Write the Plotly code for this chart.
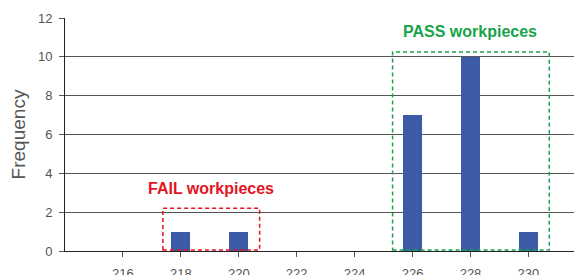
import plotly.graph_objects as go

bins = [216, 218, 220, 222, 224, 226, 228, 230]
frequency = [0, 1, 1, 0, 0, 7, 10, 1]
x_ticks = [216, 218, 220, 222, 224, 226, 228, 230]
y_ticks = [0, 2, 4, 6, 8, 10, 12]

fail_box = dict(x0=217.38, x1=220.72, y0=0.05, y1=2.2)
pass_box = dict(x0=225.31, x1=230.72, y0=0.05, y1=10.25)

fig = go.Figure()
fig.add_trace(go.Bar(x=bins, y=frequency, width=0.65,
                     marker=dict(color="#3c5ba6", line=dict(width=0))))

fig.add_shape(type="rect", xref="x", yref="y", **fail_box,
              line=dict(color="#e5131f", width=1.5, dash="4px,3px"))
fig.add_shape(type="rect", xref="x", yref="y", **pass_box,
              line=dict(color="#17a44a", width=1.5, dash="4px,3px"))

fig.add_annotation(x=219.05, y=3.2, xref="x", yref="y", text="<b>FAIL workpieces</b>",
                   showarrow=False, font=dict(color="#e5131f", size=16,
                                              family="Liberation Sans, Arial"))
fig.add_annotation(x=228.0, y=11.3, xref="x", yref="y", text="<b>PASS workpieces</b>",
                   showarrow=False, font=dict(color="#17a44a", size=16,
                                              family="Liberation Sans, Arial"))

fig.update_layout(
    width=574, height=267,
    margin=dict(l=57, r=0, t=10, b=24, autoexpand=False),
    plot_bgcolor="white", paper_bgcolor="white",
    showlegend=False,
    font=dict(family="Liberation Sans, Arial", color="#555555", size=13),
    bargap=0,
)
fig.update_xaxes(range=[214, 231.85], tickvals=x_ticks, ticktext=[str(t) for t in x_ticks],
                 showgrid=False, zeroline=False, showline=True, linecolor="#222222",
                 linewidth=1, ticks="outside", ticklen=5, tickcolor="#555555",
                 ticklabelstandoff=5, automargin=False)
fig.update_yaxes(range=[0, 12], tickvals=y_ticks, showgrid=True, gridcolor="#555555",
                 gridwidth=1, zeroline=False, showline=True, linecolor="#222222",
                 linewidth=1, ticks="outside", ticklen=5, tickcolor="#555555",
                 ticklabelstandoff=4, automargin=False,
                 title=dict(text="Frequency", font=dict(size=19, color="#555555"), standoff=14))

fig.write_html("out.html")
